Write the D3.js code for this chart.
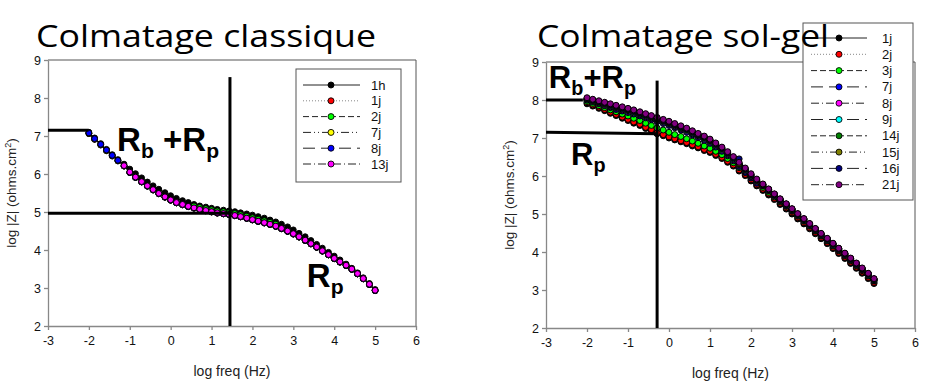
<!DOCTYPE html>
<html>
<head>
<meta charset="utf-8">
<script src="https://cdn.jsdelivr.net/npm/d3@7"></script>
<style>
  body { margin: 0; background: #fff; }
  svg text { font-family: "Liberation Sans", Arial, sans-serif; }
</style>
</head>
<body>
<svg id="chart" width="937" height="384"></svg>
<script>
// log frequency sampling (Hz), 7 points per decade
const logFreq = [-2.00,-1.86,-1.71,-1.57,-1.43,-1.29,-1.14,-1.00,-0.86,-0.71,-0.57,-0.43,-0.29,-0.14,0.00,0.14,0.29,0.43,0.57,0.71,0.86,1.00,1.14,1.29,1.43,1.57,1.71,1.86,2.00,2.14,2.29,2.43,2.57,2.71,2.86,3.00,3.14,3.29,3.43,3.57,3.71,3.86,4.00,4.14,4.29,4.43,4.57,4.71,4.86,5.00];

const xTicks = [-3, -2, -1, 0, 1, 2, 3, 4, 5, 6];
const yTicks = [2, 3, 4, 5, 6, 7, 8, 9];

// Colmatage classique : log |Z|
const cl1h  = [7.10,6.95,6.80,6.65,6.51,6.38,6.26,6.13,6.01,5.90,5.79,5.69,5.60,5.51,5.43,5.36,5.30,5.25,5.20,5.16,5.13,5.10,5.07,5.05,5.03,5.01,4.98,4.95,4.92,4.88,4.84,4.79,4.74,4.68,4.61,4.53,4.44,4.35,4.25,4.15,4.05,3.94,3.84,3.74,3.63,3.52,3.40,3.27,3.12,2.96];
const cl1j  = [7.06,6.91,6.76,6.61,6.47,6.34,6.21,6.04,5.91,5.79,5.68,5.58,5.48,5.39,5.31,5.24,5.19,5.14,5.10,5.06,5.03,5.00,4.97,4.95,4.93,4.90,4.87,4.83,4.79,4.75,4.71,4.67,4.62,4.56,4.49,4.42,4.34,4.25,4.16,4.07,3.97,3.87,3.77,3.68,3.59,3.49,3.37,3.24,3.09,2.93];
const cl2j  = [7.07,6.92,6.77,6.62,6.48,6.35,6.21,6.04,5.91,5.79,5.68,5.58,5.48,5.39,5.31,5.24,5.19,5.14,5.16,5.12,5.09,5.06,5.03,5.01,4.99,4.96,4.93,4.89,4.85,4.81,4.77,4.73,4.68,4.56,4.49,4.42,4.34,4.25,4.16,4.07,3.97,3.87,3.77,3.68,3.59,3.49,3.37,3.24,3.09,2.93];
const cl7j  = [7.07,6.92,6.77,6.62,6.48,6.35,6.21,6.04,5.91,5.79,5.68,5.58,5.48,5.39,5.31,5.24,5.19,5.14,5.10,5.06,5.03,5.00,4.97,4.95,4.93,4.90,4.87,4.83,4.79,4.75,4.71,4.67,4.62,4.56,4.49,4.42,4.34,4.25,4.16,4.07,3.97,3.87,3.77,3.68,3.59,3.49,3.37,3.24,3.09,2.93];
const cl8j  = [7.08,6.93,6.78,6.63,6.49,6.36,6.21,6.04,5.91,5.79,5.68,5.58,5.48,5.39,5.31,5.24,5.19,5.14,5.10,5.06,5.03,5.00,4.97,4.95,4.93,4.90,4.87,4.83,4.79,4.75,4.71,4.67,4.62,4.56,4.49,4.42,4.34,4.25,4.16,4.07,3.97,3.87,3.77,3.68,3.59,3.49,3.37,3.24,3.09,2.93];
const cl13j = [null,null,null,null,null,null,6.22,6.05,5.92,5.80,5.69,5.59,5.49,5.40,5.32,5.25,5.20,5.15,5.11,5.07,5.04,5.01,4.98,4.96,4.94,4.91,4.88,4.84,4.80,4.76,4.72,4.68,4.63,4.57,4.50,4.43,4.35,4.26,4.17,4.08,3.98,3.88,3.78,3.69,3.60,3.50,3.38,3.25,3.10,2.94];

// Colmatage sol-gel : log |Z|
const sg1j  = [7.90,7.84,7.78,7.72,7.65,7.59,7.52,7.46,7.39,7.33,7.25,7.19,7.11,7.06,7.00,6.95,6.90,6.85,6.79,6.74,6.67,6.62,6.54,6.46,6.36,6.26,6.13,6.01,5.87,5.74,5.62,5.50,5.38,5.25,5.13,5.00,4.87,4.74,4.61,4.48,4.35,4.22,4.09,3.96,3.83,3.70,3.57,3.44,3.30,3.17];
const sg2j  = [7.93,7.87,7.81,7.75,7.68,7.62,7.55,7.49,7.42,7.36,7.28,7.22,7.14,7.09,7.03,6.98,6.93,6.88,6.82,6.77,6.70,6.65,6.57,6.49,6.39,6.29,6.16,6.04,5.90,5.77,5.65,5.53,5.41,5.28,5.16,5.03,4.90,4.77,4.64,4.51,4.38,4.25,4.12,3.99,3.86,3.73,3.60,3.47,3.33,3.20];
const sg3j  = [7.96,7.91,7.85,7.80,7.74,7.69,7.63,7.58,7.52,7.46,7.39,7.33,7.26,7.21,7.15,7.09,7.04,6.98,6.92,6.86,6.79,6.73,6.65,6.56,6.46,6.35,6.22,6.09,5.95,5.82,5.70,5.57,5.45,5.32,5.20,5.07,4.94,4.81,4.68,4.55,4.42,4.29,4.16,4.03,3.90,3.77,3.64,3.51,3.37,3.24];
const sg7j  = [8.00,7.95,7.90,7.85,7.80,7.75,7.71,7.67,7.63,7.58,7.53,7.48,7.43,7.38,7.33,7.27,7.21,7.15,7.08,7.01,6.94,6.86,6.76,6.65,6.53,6.40,6.25,6.10,5.95,5.81,5.74,5.61,5.48,5.35,5.22,5.09,4.96,4.83,4.70,4.57,4.44,4.31,4.18,4.05,3.92,3.79,3.66,3.53,3.39,3.25];
const sg8j  = [8.01,7.96,7.91,7.86,7.82,7.78,7.74,7.70,7.66,7.61,7.56,7.51,7.46,7.41,7.36,7.30,7.24,7.18,7.11,7.04,6.97,6.89,6.79,6.68,6.56,6.43,6.28,6.13,5.98,5.84,5.75,5.62,5.49,5.36,5.23,5.10,4.97,4.84,4.71,4.58,4.45,4.32,4.19,4.06,3.93,3.80,3.67,3.54,3.40,3.26];
const sg9j  = [8.00,7.96,7.92,7.88,7.84,7.80,7.76,7.72,7.68,7.63,7.58,7.53,7.48,7.43,7.38,7.32,7.26,7.20,7.13,7.06,6.99,6.91,6.81,6.70,6.58,6.45,6.30,6.15,6.00,5.86,5.76,5.63,5.50,5.37,5.24,5.11,4.98,4.85,4.72,4.59,4.46,4.33,4.20,4.07,3.94,3.81,3.68,3.55,3.41,3.27];
const sg14j = [8.02,7.98,7.94,7.90,7.86,7.82,7.78,7.74,7.70,7.65,7.60,7.55,7.50,7.45,7.40,7.34,7.28,7.22,7.15,7.08,7.01,6.93,6.83,6.72,6.60,6.47,6.32,6.17,6.02,5.88,5.77,5.64,5.51,5.38,5.25,5.12,4.99,4.86,4.73,4.60,4.47,4.34,4.21,4.08,3.95,3.82,3.69,3.56,3.42,3.28];
const sg15j = [8.03,7.99,7.95,7.91,7.87,7.83,7.79,7.75,7.71,7.66,7.61,7.56,7.51,7.46,7.41,7.35,7.29,7.23,7.16,7.09,7.02,6.94,6.84,6.73,6.61,6.48,6.33,6.18,6.03,5.89,5.78,5.65,5.52,5.39,5.26,5.13,5.00,4.87,4.74,4.61,4.48,4.35,4.22,4.09,3.96,3.83,3.70,3.57,3.43,3.29];
const sg16j = [8.04,8.00,7.96,7.92,7.88,7.84,7.80,7.76,7.72,7.67,7.62,7.57,7.52,7.47,7.42,7.36,7.30,7.24,7.17,7.10,7.03,6.95,6.85,6.74,6.62,6.49,6.45,6.19,6.04,5.90,5.78,5.65,5.52,5.39,5.26,5.13,5.00,4.87,4.74,4.61,4.48,4.35,4.22,4.09,3.96,3.83,3.70,3.57,3.43,3.29];
const sg21j = [8.06,8.02,7.98,7.94,7.90,7.86,7.82,7.78,7.74,7.69,7.64,7.59,7.54,7.49,7.44,7.38,7.32,7.26,7.19,7.12,7.05,6.97,6.87,6.76,6.64,6.51,6.36,6.21,6.06,5.92,5.79,5.66,5.53,5.40,5.27,5.14,5.01,4.88,4.75,4.62,4.49,4.36,4.23,4.10,3.97,3.84,3.71,3.58,3.44,3.30];

// guide lines drawn on the plots (log freq, log |Z|)
const classiqueGuides = [[-3, 7.15, -2.01, 7.15], [-3, 4.97, 1.45, 4.97], [1.45, 8.55, 1.45, 2]];
const solgelGuides = [[-3, 8.0, -2.1, 8.0], [-3, 7.15, -0.29, 7.11], [-0.29, 8.51, -0.29, 2]];

// line styles
const SOLID = null, DOT = "1,2", DASH = "6,3", DASH_DOT_DOT = "8,3,1,3,1,3", LONG_DASH = "12,6", DASH_DOT = "8,3,1,3";

const classiqueSeries = [
  { name: "1h",  color: "#000000", dash: SOLID, values: cl1h },
  { name: "1j",  color: "#ff0000", dash: DOT, values: cl1j },
  { name: "2j",  color: "#00ff00", dash: DASH, values: cl2j },
  { name: "7j",  color: "#ffff00", dash: DASH_DOT_DOT, values: cl7j },
  { name: "8j",  color: "#0000ff", dash: LONG_DASH, values: cl8j },
  { name: "13j", color: "#ff00ff", dash: DASH_DOT, values: cl13j }
];

const solgelSeries = [
  { name: "1j",  color: "#000000", dash: SOLID, values: sg1j },
  { name: "2j",  color: "#ff0000", dash: DOT, values: sg2j },
  { name: "3j",  color: "#00ff00", dash: DASH, values: sg3j },
  { name: "7j",  color: "#0000ff", dash: LONG_DASH, values: sg7j },
  { name: "8j",  color: "#ff00ff", dash: DASH_DOT, values: sg8j },
  { name: "9j",  color: "#00ffff", dash: LONG_DASH, values: sg9j },
  { name: "14j", color: "#008000", dash: DASH, values: sg14j },
  { name: "15j", color: "#808000", dash: DASH_DOT_DOT, values: sg15j },
  { name: "16j", color: "#000080", dash: LONG_DASH, values: sg16j },
  { name: "21j", color: "#800080", dash: DASH_DOT, values: sg21j }
];

const svg = d3.select("#chart");

function drawPanel(p) {
  const x = d3.scaleLinear().domain([-3, 6]).range([p.left, p.right]);
  const y = d3.scaleLinear().domain([2, 9]).range([p.bottom, p.top]);
  const g = svg.append("g");

  // frame (top + right)
  g.append("path")
    .attr("d", `M${p.left},${p.top}H${p.right}V${p.bottom}`)
    .attr("fill", "none")
    .attr("stroke", "#555")
    .attr("stroke-width", 1);

  const xAxis = g.append("g")
    .attr("transform", `translate(0,${p.bottom})`)
    .call(d3.axisBottom(x).tickValues(xTicks).tickSize(4).tickSizeOuter(0).tickPadding(6).tickFormat(d => String(d)));
  const yAxis = g.append("g")
    .attr("transform", `translate(${p.left},0)`)
    .call(d3.axisLeft(y).tickValues(yTicks).tickSize(4).tickSizeOuter(0).tickPadding(3).tickFormat(d => String(d)));

  [xAxis, yAxis].forEach(a => {
    a.select(".domain").attr("stroke", "#888").attr("stroke-width", 1.3);
    a.selectAll(".tick line").attr("stroke", "#888").attr("stroke-width", 1.3);
    a.selectAll("text").attr("fill", "#111").style("font-size", "12.5px").style("font-family", "Liberation Sans, Arial, sans-serif");
  });

  // axis titles
  g.append("text")
    .attr("x", (p.left + p.right) / 2)
    .attr("y", p.bottom + 50)
    .attr("text-anchor", "middle")
    .attr("font-size", 14)
    .attr("fill", "#222")
    .text("log freq (Hz)");

  g.append("text")
    .attr("transform", `translate(${p.left - 32},${(p.top + p.bottom) / 2}) rotate(-90)`)
    .attr("text-anchor", "middle")
    .attr("font-size", 13.5)
    .attr("fill", "#222")
    .html("log |Z| (ohms.cm<tspan font-size='9' dy='-5'>2</tspan><tspan dy='5'>)</tspan>");

  // series: connecting line under symbols
  const line = d3.line()
    .defined(d => d[1] != null)
    .x(d => x(d[0]))
    .y(d => y(d[1]));

  p.series.forEach(s => {
    const pts = logFreq.map((f, i) => [f, s.values[i]]);
    g.append("path")
      .datum(pts)
      .attr("d", line)
      .attr("fill", "none")
      .attr("stroke", "#000")
      .attr("stroke-width", 1)
      .attr("stroke-dasharray", s.dash);
    g.append("g").selectAll("circle")
      .data(pts.filter(d => d[1] != null))
      .enter()
      .append("circle")
      .attr("cx", d => x(d[0]))
      .attr("cy", d => y(d[1]))
      .attr("r", p.r)
      .attr("fill", s.color)
      .attr("stroke", "#000")
      .attr("stroke-width", 1);
  });

  // guide lines
  g.selectAll(".guide")
    .data(p.guides)
    .enter()
    .append("line")
    .attr("x1", d => x(d[0]))
    .attr("y1", d => y(d[1]))
    .attr("x2", d => x(d[2]))
    .attr("y2", d => y(d[3]))
    .attr("stroke", "#000")
    .attr("stroke-width", 3);

  // annotations R_b + R_p and R_p
  p.notes.forEach(n => {
    const t = g.append("text")
      .attr("x", x(n.at[0]))
      .attr("y", y(n.at[1]))
      .attr("font-weight", "bold")
      .attr("font-size", n.size)
      .attr("fill", "#000");
    n.parts.forEach(part => {
      t.append("tspan")
        .attr("font-size", part.sub ? n.size * 0.64 : n.size)
        .attr("dy", part.dy)
        .text(part.t);
    });
  });

  // legend
  const L = p.legend;
  const lg = g.append("g");
  lg.append("rect")
    .attr("x", L.x).attr("y", L.y)
    .attr("width", L.w).attr("height", L.h)
    .attr("fill", "#fff")
    .attr("stroke", "#555")
    .attr("stroke-width", 1);
  p.series.forEach((s, i) => {
    const cy = L.row0 + i * L.step;
    lg.append("line")
      .attr("x1", L.lx1).attr("x2", L.lx2)
      .attr("y1", cy).attr("y2", cy)
      .attr("stroke", s.dash === DOT ? "#888" : "#222")
      .attr("stroke-width", 1)
      .attr("stroke-dasharray", s.dash);
    lg.append("circle")
      .attr("cx", L.mx).attr("cy", cy)
      .attr("r", 3)
      .attr("fill", s.color)
      .attr("stroke", "#000")
      .attr("stroke-width", 0.9);
    lg.append("text")
      .attr("x", L.tx).attr("y", cy + 4.5)
      .attr("font-size", 13)
      .attr("fill", "#111")
      .text(s.name);
  });

  // title
  g.append("text")
    .attr("x", p.titleX)
    .attr("y", 47)
    .attr("font-size", 31)
    .attr("fill", "#000")
    .attr("textLength", p.titleLen)
    .attr("lengthAdjust", "spacingAndGlyphs")
    .style("font-family", "'Open Sans', 'Noto Sans', sans-serif")
    .text(p.title);
}

drawPanel({
  title: "Colmatage classique", titleX: 36, titleLen: 340,
  left: 48, right: 416, top: 60, bottom: 326, r: 2.9,
  series: classiqueSeries,
  guides: classiqueGuides,
  legend: { x: 296, y: 69, w: 105, h: 113, row0: 85, step: 15.8, lx1: 303, lx2: 360, mx: 331, tx: 371 },
  notes: [
    { at: [-1.31, 6.61], size: 33, parts: [{ t: "R", dy: 0 }, { t: "b", sub: true, dy: 7 }, { t: " +R", dy: -7 }, { t: "p", sub: true, dy: 7 }] },
    { at: [3.33, 3.03], size: 33, parts: [{ t: "R", dy: 0 }, { t: "p", sub: true, dy: 7 }] }
  ]
});

drawPanel({
  title: "Colmatage sol-gel", titleX: 537, titleLen: 292,
  left: 546, right: 915, top: 62, bottom: 328, r: 3.0,
  series: solgelSeries,
  guides: solgelGuides,
  legend: { x: 803, y: 23, w: 110, h: 177, row0: 38, step: 16.3, lx1: 811, lx2: 867, mx: 839, tx: 882 },
  notes: [
    { at: [-2.93, 8.32], size: 31, parts: [{ t: "R", dy: 0 }, { t: "b", sub: true, dy: 7 }, { t: "+R", dy: -7 }, { t: "p", sub: true, dy: 7 }] },
    { at: [-2.39, 6.29], size: 31, parts: [{ t: "R", dy: 0 }, { t: "p", sub: true, dy: 7 }] }
  ]
});
</script>
</body>
</html>
